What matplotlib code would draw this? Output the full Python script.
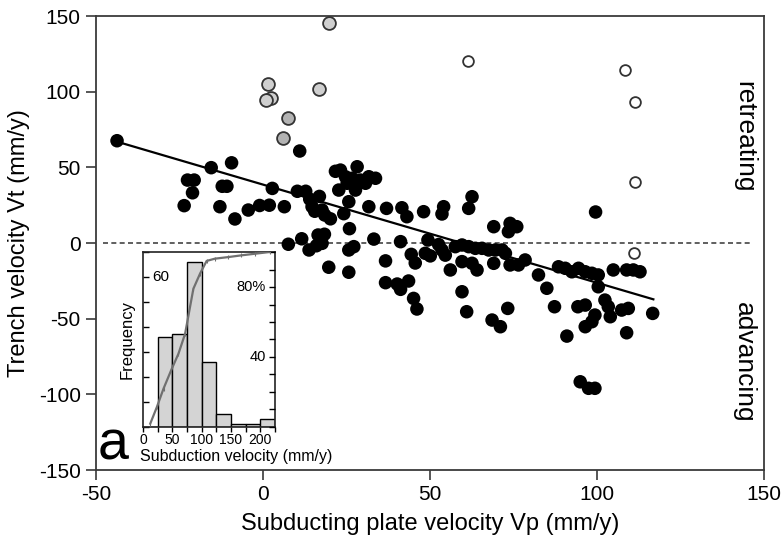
import matplotlib
matplotlib.use('Agg')
import matplotlib.pyplot as plt
import numpy as np
from matplotlib.ticker import MultipleLocator, FixedLocator
from matplotlib.transforms import blended_transform_factory

plt.rcParams['font.family'] = ['Liberation Sans', 'DejaVu Sans']
plt.rcParams['axes.unicode_minus'] = False

# black points: subducting plate velocity Vp, trench velocity Vt
black_vp = [-43.7, -22.6, -20.6, -21.1, -23.6, -15.5, -9.4, -12.2, -10.8, -12.9,
            -8.4, -4.4, -1.0, 1.9, 2.8, 6.4, 11.0, 10.3, 12.8, 14.0,
            16.9, 14.7, 15.5, 17.7, 18.5, 20.2, 21.7, 23.2, 28.2, 24.7,
            26.7, 29.2, 31.7, 33.7, 22.7, 27.7, 25.2, 30.7, 25.7, 24.2,
            25.9, 31.7, 37.0, 41.6, 43.1, 48.1, 54.1, 53.6, 61.6, 62.6,
            7.6, 11.6, 13.8, 16.0, 16.5, 18.4, 17.7, 25.7, 27.2, 19.7,
            25.7, 33.2, 36.7, 41.2, 36.7, 40.2, 41.2, 43.6, 45.1, 46.1,
            44.4, 45.6, 48.6, 50.1, 49.4, 52.6, 53.6, 54.6, 56.1, 57.6,
            59.6, 59.6, 61.0, 59.6, 61.6, 63.6, 65.6, 67.6, 69.6, 71.6,
            72.6, 62.6, 64.1, 69.1, 69.1, 74.0, 76.0, 73.5, 74.0, 76.5,
            78.5, 82.5, 85.0, 88.5, 90.5, 92.5, 94.5, 96.5, 98.5, 100.4,
            100.4, 104.9, 108.9, 110.9, 112.9, 68.6, 71.1, 73.3, 87.3, 94.3,
            96.5, 99.4, 98.5, 96.5, 102.4, 103.4, 104.0, 107.4, 109.4, 108.9,
            91.0, 116.7, 95.0, 97.5, 99.4, 99.6]
black_vt = [67.6, 41.6, 41.6, 33.2, 24.7, 49.8, 53.0, 37.5, 37.5, 24.0,
            15.9, 21.8, 24.8, 25.0, 36.1, 24.0, 60.8, 34.2, 34.2, 29.0,
            30.8, 24.0, 21.0, 21.8, 18.5, 16.0, 47.4, 48.2, 50.4, 43.8,
            42.8, 41.6, 43.8, 42.8, 35.0, 35.0, 39.5, 39.5, 27.3, 19.4,
            9.5, 24.0, 22.9, 23.3, 17.4, 20.7, 24.0, 19.2, 22.9, 30.6,
            -0.8, 2.8, -4.6, -1.8, 5.3, 5.8, -0.2, -4.6, -2.4, -16.0,
            -19.3, 2.6, -11.8, 0.9, -26.2, -27.1, -30.6, -25.1, -36.6, -43.6,
            -7.5, -13.2, -6.8, -8.5, 2.0, -1.0, -4.6, -8.0, -17.8, -2.4,
            -12.3, -32.2, -45.4, -1.3, -2.4, -3.5, -3.5, -4.6, -4.6, -4.6,
            -6.8, -13.4, -17.8, -13.4, 10.8, 13.0, 10.8, 7.5, -14.5, -14.5,
            -11.2, -21.1, -29.9, -15.7, -16.7, -19.0, -16.7, -19.0, -20.0, -21.1,
            -28.9, -17.8, -17.8, -17.8, -19.0, -50.9, -55.3, -43.2, -42.1, -42.1,
            -41.0, -47.6, -52.0, -55.3, -37.7, -42.1, -48.7, -44.3, -43.2, -59.3,
            -61.5, -46.5, -91.7, -96.0, -96.0, 20.5]

# grey points
grey_vp = [1.5, 2.4, 0.9, 16.7, 19.7]
grey_vt = [105.0, 96.0, 94.5, 101.7, 145.4]
dgrey_vp = [7.5, 6.0]
dgrey_vt = [82.6, 69.4]

# open points
open_vp = [61.3, 108.5, 111.5, 111.5, 111.2]
open_vt = [120.3, 114.3, 93.2, 40.3, -6.6]

# regression line
fit_x = [-43.6, 116.9]
fit_y = [66.9, -37.2]

# inset histogram
bin_left = [0, 25, 50, 75, 100, 125, 150, 175, 200]
bin_count = [0, 36, 37, 66, 26, 5, 1, 1, 3]
cum_v = [12.4, 23.7, 35.0, 48.0, 60.5, 71.8, 85.9, 97.2, 108.5, 122.6, 145.2, 167.8, 190.4, 215.8]
cum_pct = [1.9, 11.4, 21.9, 32.4, 41.9, 53.3, 79.0, 87.6, 94.9, 96.2, 97.1, 98.1, 99.0, 100.0]

spine_c = '#3a3a3a'

fig = plt.figure(figsize=(7.83, 5.40), dpi=100)
ax = fig.add_axes([0.1226, 0.1296, 0.853, 0.8407])

ax.hlines(0, -48, 146, colors='#444444', linestyles=(0, (3, 2)), linewidth=1.2, zorder=1)
ax.plot(fit_x, fit_y, color='black', linewidth=1.6, zorder=2)
ax.scatter(black_vp, black_vt, s=95, c='black', edgecolors='none', zorder=3)
ax.scatter(grey_vp, grey_vt, s=85, c='#cfcfcf', edgecolors='#333333', linewidths=1.3, zorder=3)
ax.scatter(dgrey_vp, dgrey_vt, s=85, c='#b3b3b3', edgecolors='#333333', linewidths=1.3, zorder=3)
ax.scatter(open_vp, open_vt, s=60, c='white', edgecolors='#333333', linewidths=1.3, zorder=3)

ax.set_xlim(-50, 150)
ax.set_ylim(-150, 150)
ax.xaxis.set_major_locator(MultipleLocator(50))
ax.yaxis.set_major_locator(MultipleLocator(50))
ax.tick_params(direction='out', length=7, width=1.2, color=spine_c, labelsize=15, pad=4)
for sp in ax.spines.values():
    sp.set_color(spine_c)
    sp.set_linewidth(1.3)
ax.set_xlabel('Subducting plate velocity Vp (mm/y)', fontsize=17, labelpad=6)
ax.set_ylabel('Trench velocity Vt (mm/y)', fontsize=17, labelpad=6)

ax.text(144, 70, 'retreating', rotation=-90, fontsize=19, ha='center', va='center')
ax.text(144, -79, 'advancing', rotation=-90, fontsize=19, ha='center', va='center')

# inset
ins = fig.add_axes([0.1826, 0.2093, 0.1686, 0.324])
ins.bar(bin_left, bin_count, width=25, align='edge', color='#d4d4d4',
        edgecolor='black', linewidth=1.0, zorder=2)
ins.set_xlim(0, 225)
ins.set_ylim(0, 70)
ins.xaxis.set_major_locator(MultipleLocator(50))
ins.xaxis.set_minor_locator(MultipleLocator(25))
ins.yaxis.set_major_locator(MultipleLocator(10))
ins.tick_params(axis='x', which='both', direction='out', length=3.5, width=1, labelsize=10, pad=1)
ins.tick_params(axis='y', direction='in', length=4, width=1, labelleft=False)
for sp in ins.spines.values():
    sp.set_linewidth(1.2)
    sp.set_color('#222222')
yt = blended_transform_factory(ins.transAxes, ins.transData)
ins.text(0.07, 60, '60', transform=yt, fontsize=11, ha='left', va='center')
ins.set_ylabel('Frequency', fontsize=12, labelpad=6)

tw = ins.twinx()
tw.plot(cum_v, cum_pct, color='#707070', linewidth=1.6, marker='|', markersize=3,
        markeredgewidth=0.8, zorder=4)
tw.set_ylim(0, 100)
tw.yaxis.set_major_locator(MultipleLocator(10))
tw.tick_params(axis='y', direction='in', length=4, width=1, labelright=False)
for sp in tw.spines.values():
    sp.set_visible(False)
yt2 = blended_transform_factory(tw.transAxes, tw.transData)
tw.text(0.93, 80, '80%', transform=yt2, fontsize=10.5, ha='right', va='center')
tw.text(0.93, 40, '40', transform=yt2, fontsize=10.5, ha='right', va='center')

fig.text(236 / 783, 1 - 457 / 540, 'Subduction velocity (mm/y)', fontsize=11.5,
         ha='center', va='center')
fig.text(113 / 783, 1 - 446 / 540, 'a', fontsize=40, ha='center', va='center')

fig.savefig('out.png', dpi=100)
